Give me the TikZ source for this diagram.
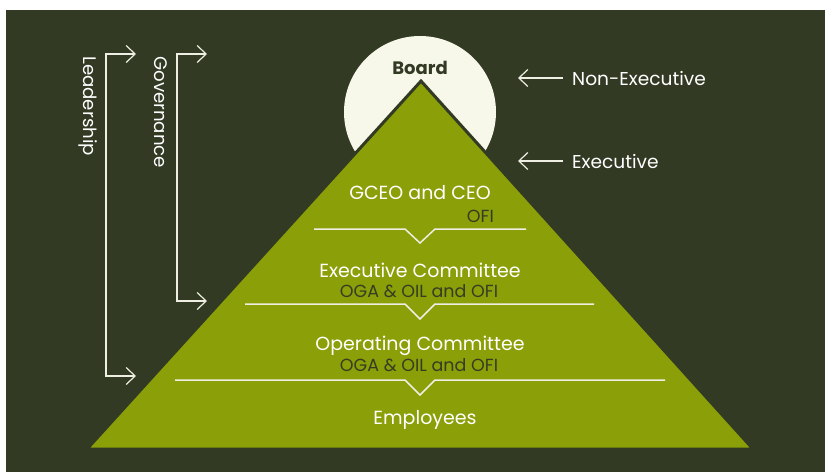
\documentclass[tikz,border=0pt]{standalone}
\usepackage{fontspec}
\setmainfont{Poppins}
\usepackage{xcolor}
\usetikzlibrary{arrows.meta}

\definecolor{bgdark}{HTML}{323A24}
\definecolor{pyrgreen}{HTML}{8A9F08}
\definecolor{boardcream}{HTML}{F7F7EA}
\definecolor{subdark}{HTML}{363D24}
\definecolor{linewhite}{HTML}{EEEEE2}

\begin{document}
\begin{tikzpicture}[x=1pt, y=-1pt,
        maintxt/.style={text=white, font=\fontsize{19}{22}\selectfont, inner sep=0pt, anchor=base},
        subtxt/.style={text=subdark, font=\fontsize{17.5}{20}\selectfont, inner sep=0pt, anchor=base},
        sidetxt/.style={text=white, font=\fontsize{18.6}{21}\selectfont, inner sep=0pt, anchor=base west},
        vtxt/.style={text=white, font=\fontsize{18.2}{21}\selectfont, inner sep=0pt, rotate=-90, anchor=base west},
        sepline/.style={linewhite, line width=1.5pt},
        arr/.style={linewhite, line width=1.2pt, -{Straight Barb[length=9pt, width=17pt]}},
        bracket/.style={linewhite, line width=1.2pt, {Straight Barb[length=9pt, width=17pt]}-{Straight Barb[length=9pt, width=17pt]}}]
            \useasboundingbox (0,0) rectangle (825,472);
            \fill[white] (0,0) rectangle (825,472);
            \fill[bgdark] (6,10) rectangle (825,472);

            % board and pyramid
            \fill[boardcream] (420,112) circle (76);
            \filldraw[fill=pyrgreen, draw=bgdark, line width=3pt, line join=miter] (421,81) -- (753,449) -- (87,449) -- cycle;
            \node[text=bgdark, font=\bfseries\fontsize{18}{21}\selectfont, inner sep=0pt, anchor=base] (board) at (420,74) {Board};

            % levels
            \node[maintxt] (gceo) at (420,199) {GCEO and CEO};
            \node[subtxt, anchor=base east] (gceosub) at (494,222) {OFI};
            \node[maintxt] (exco) at (420,277) {Executive Committee};
            \node[subtxt] (excosub) at (419,297) {OGA \& OIL and OFI};
            \node[maintxt] (opco) at (420,350) {Operating Committee};
            \node[subtxt] (opcosub) at (419,371) {OGA \& OIL and OFI};
            \node[maintxt] (emp) at (425,424) {Employees};

            \draw[sepline] (314,229) -- (405,229) -- (420,243) -- (435,229) -- (526,229);
            \draw[sepline] (245,304) -- (405,304) -- (420,319) -- (435,304) -- (594,304);
            \draw[sepline] (175,380) -- (405,380) -- (420,395) -- (435,380) -- (665,380);

            % right labels
            \node[sidetxt] (nonexec) at (572,85) {Non-Executive};
            \node[sidetxt] (exec) at (572,168) {Executive};
            \coordinate (nonexectip) at (518,78);
            \coordinate (exectip) at (518,161);
            \draw[arr] ([xshift=-9pt]nonexec.west |- nonexectip) -- (nonexectip);
            \draw[arr] ([xshift=-9pt]exec.west |- exectip) -- (exectip);

            % left brackets
            \node[vtxt] (lead) at (83,56) {Leadership};
            \node[vtxt] (gov) at (154,56) {Governance};
            \coordinate (leadtop) at (136,54);
            \coordinate (leadbot) at (136,376);
            \coordinate (govtop) at (207,54);
            \coordinate (govbot) at (207,301);
            \draw[bracket] (leadtop) -- (106,54) -- (106,376) -- (leadbot);
            \draw[bracket] (govtop) -- (177,54) -- (177,301) -- (govbot);
        \end{tikzpicture}
\end{document}
